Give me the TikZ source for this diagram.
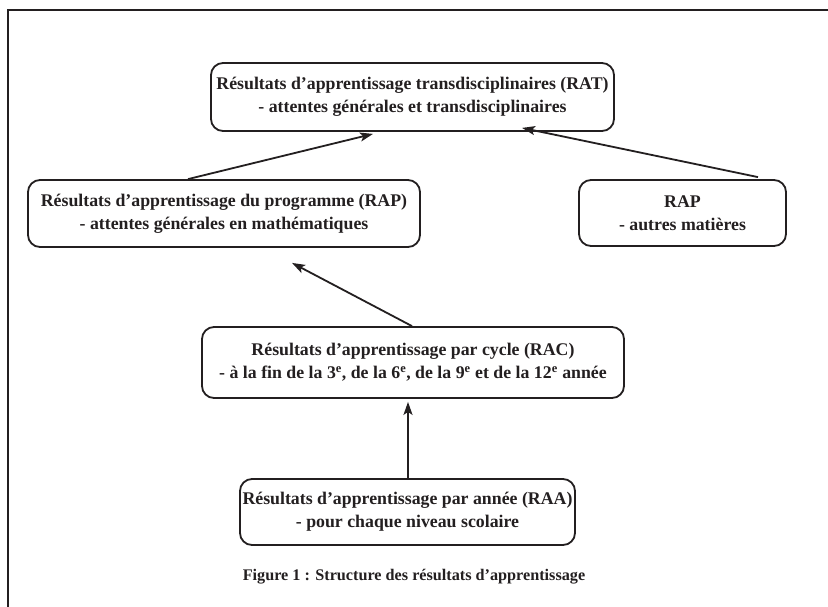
\documentclass[tikz,border=0pt]{standalone}
\usepackage{fontspec}
\setmainfont{Liberation Serif}
\usetikzlibrary{arrows.meta,calc}
\definecolor{ink}{HTML}{231F20}
\tikzset{
  box/.style={draw=ink, line width=1.8pt, rounded corners=12pt, align=center,
    inner sep=0pt, font=\fontsize{17.8}{23}\selectfont\bfseries, text=ink},
  link/.style={draw=ink, line width=1.8pt, -{Stealth[length=13pt,width=9pt,inset=3pt]}},
}
\begin{document}
\begin{tikzpicture}[x=1pt,y=-1pt]
\useasboundingbox (0,0) rectangle (828,606);
\fill[white] (0,0) rectangle (828,606);
% outer frame (cropped)
\draw[ink, line width=2.4pt] (8,620) -- (8,10) -- (840,10);

\node[box, minimum width=403pt, minimum height=68pt] (rat) at (412.5,97)
  {Résultats d’apprentissage transdisciplinaires (RAT)\\- attentes générales et transdisciplinaires};
\node[box, minimum width=392pt, minimum height=67pt] (rap) at (224,213.5)
  {Résultats d’apprentissage du programme (RAP)\\- attentes générales en mathématiques};
\node[box, minimum width=207pt, minimum height=66pt] (autres) at (682.5,213)
  {RAP\\- autres matières};
\node[box, minimum width=422pt, minimum height=71pt] (rac) at (413,362.5)
  {Résultats d’apprentissage par cycle (RAC)\\- à la fin de la 3\textsuperscript{e}, de la 6\textsuperscript{e}, de la 9\textsuperscript{e} et de la 12\textsuperscript{e} année};
\node[box, minimum width=335pt, minimum height=66pt] (raa) at (407.5,512)
  {Résultats d’apprentissage par année (RAA)\\- pour chaque niveau scolaire};
\node[font=\fontsize{16.2}{20}\selectfont\bfseries, text=ink] (cap) at (414,577)
  {Figure 1 : Structure des résultats d’apprentissage};

\coordinate (t1) at ($(rat.south)+(-39.5,2)$);
\coordinate (t2) at ($(rat.south)+(109.5,-4)$);
\coordinate (t3) at ($(rap.south)+(68,15)$);
\coordinate (t4) at ($(rac.south)+(-5,3)$);

\path[link] ($(rap.north)+(-36,0)$) -- (t1);
\path[link] ($(autres.north)+(75.5,-2)$) -- (t2);
\path[link] ($(rac.north)+(-1,0)$) -- (t3);
\path[link] ($(raa.north)+(0.5,0)$) -- (t4);
\end{tikzpicture}
\end{document}
